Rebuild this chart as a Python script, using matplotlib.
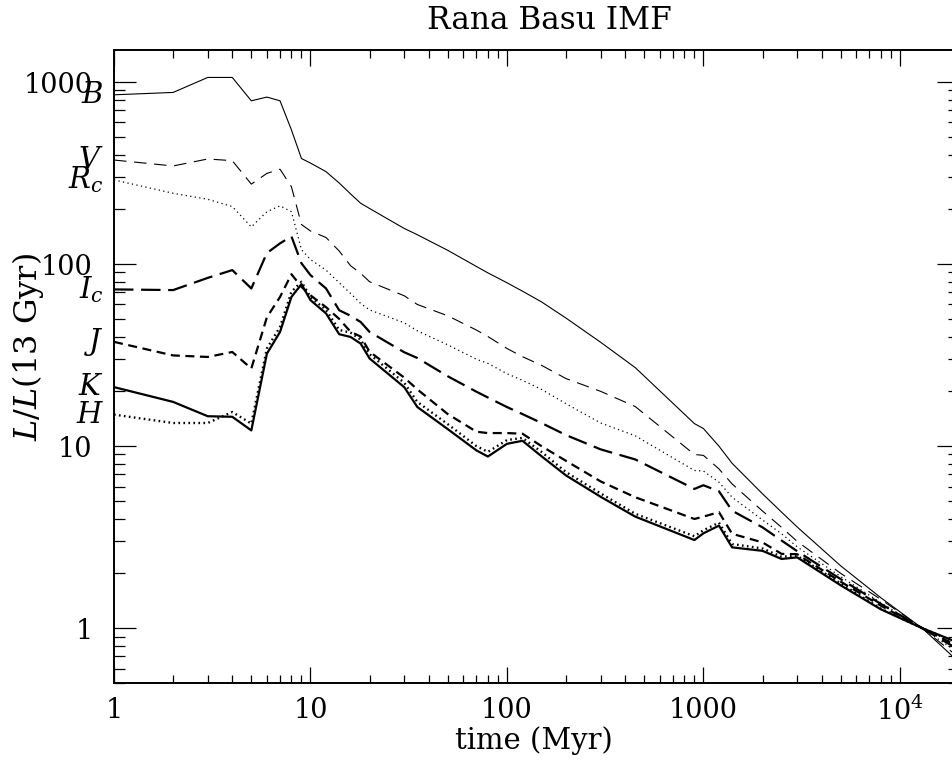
import matplotlib
matplotlib.use('Agg')
import matplotlib.pyplot as plt
from matplotlib.ticker import FixedLocator, FixedFormatter, LogLocator, NullFormatter

plt.rcParams['font.family'] = 'DejaVu Serif'
plt.rcParams['mathtext.fontset'] = 'dejavuserif'
plt.rcParams['lines.scale_dashes'] = False

# time grid (Myr)
t = [1, 2, 3, 4, 5, 6, 7, 8, 9, 10, 12, 14, 16, 18, 20, 30, 35, 50, 70, 80,
     100, 120, 150, 200, 300, 450, 900, 1000, 1200, 1400, 2000, 2500, 3000,
     5000, 8000, 13000, 20000]

# L / L(13 Gyr) per band
B = [851, 877, 1060, 1060, 789, 827, 789, 546, 380, 359, 322, 279, 243, 216, 202,
     157, 145, 119, 97, 89.5, 79, 71, 62, 50.5, 37.2, 27, 13.3, 12.5, 10.0, 8.05,
     5.47, 4.34, 3.6, 2.2, 1.47, 1.0, 0.65]
V = [373, 346, 378, 370, 275, 315, 332, 266, 165, 152, 140, 118, 98, 89, 80,
     67, 60, 52, 43.4, 40, 34.4, 31, 27.8, 23.5, 20, 16.5, 9.0, 8.9, 7.5, 6.2,
     4.4, 3.58, 3.0, 2.0, 1.44, 1.0, 0.69]
Rc = [290, 245, 227, 207, 160, 194, 209, 194, 120, 106, 92.7, 79, 69, 60.8, 56,
      47.6, 43, 36, 30, 28.5, 25, 23, 20.5, 17.1, 13.4, 11.4, 7.35, 7.3, 6.34, 5.24,
      3.93, 3.3, 2.8, 1.92, 1.38, 1.0, 0.73]
Ic = [72.6, 72, 84, 92.7, 73.5, 115, 130, 142, 101, 87, 73.5, 55.8, 52, 48.1, 42.4,
      32.8, 30.5, 24.2, 19.9, 18.5, 16.4, 15.0, 13.4, 11.5, 9.6, 8.45, 5.82, 6.1, 5.65,
      4.42, 3.58, 3.03, 2.65, 1.86, 1.36, 1.0, 0.76]
J = [37.4, 31.5, 30.9, 32.9, 26.7, 51, 66, 88, 75, 67.4, 58, 50, 42.5, 40, 33,
     23.8, 20.5, 15, 12, 11.8, 11.8, 11.7, 10, 8.3, 6.4, 5.24, 3.98, 4.1, 4.34, 3.3,
     2.96, 2.56, 2.55, 1.8, 1.33, 1.0, 0.79]
K = [21.1, 17.5, 14.6, 14.5, 12.2, 32.2, 42.4, 66, 77.6, 63.4, 53.6, 41.2, 39.8, 36.6,
     30.3, 21.1, 16.4, 12.4, 9.47, 8.77, 10.3, 10.7, 8.8, 6.9, 5.27, 4.1, 3.05, 3.32,
     3.66, 2.78, 2.66, 2.4, 2.45, 1.72, 1.27, 1.0, 0.83]
H = [14.9, 13.4, 13.4, 15.4, 13.3, 34.4, 45.2, 70.5, 80, 66, 56, 43.5, 42, 38.5, 32,
     22.3, 17.5, 13.2, 10, 9.3, 10.8, 11.1, 9.3, 7.2, 5.5, 4.25, 3.2, 3.45, 3.8, 2.9,
     2.74, 2.47, 2.5, 1.76, 1.28, 1.0, 0.82]

band_names = ['$B$', '$V$', '$R_c$', '$I_c$', '$J$', '$K$', '$H$']
bands = [B, V, Rc, Ic, J, K, H]
# (linewidth, dash pattern) for each band
styles = [(0.8, None), (0.8, (9, 5.5)), (0.9, (0.9, 2.4)), (1.6, (14, 5.5)),
          (1.6, (6.5, 4)), (1.6, None), (1.7, (1.2, 2.4))]

fig = plt.figure(figsize=(9.52, 7.64), dpi=100)
ax = fig.add_axes([114/952, 81/764, 845/952, 633/764])

for vals, (lw, dash) in zip(bands, styles):
    line, = ax.plot(t, vals, color='black', lw=lw)
    if dash is not None:
        line.set_dashes(dash)

ax.set_xscale('log')
ax.set_yscale('log')
ax.set_xlim(1, 2e4)
ax.set_ylim(0.5, 1500)

ax.xaxis.set_major_locator(FixedLocator([1, 10, 100, 1000, 1e4]))
ax.xaxis.set_major_formatter(FixedFormatter(['1', '10', '100', '1000', '$10^4$']))
ax.xaxis.set_minor_locator(LogLocator(base=10, subs=range(2, 10), numticks=20))
ax.xaxis.set_minor_formatter(NullFormatter())
ax.yaxis.set_major_locator(FixedLocator([1, 10, 100, 1000]))
ax.yaxis.set_major_formatter(FixedFormatter(['1', '10', '100', '1000']))
ax.yaxis.set_minor_locator(LogLocator(base=10, subs=range(2, 10), numticks=20))
ax.yaxis.set_minor_formatter(NullFormatter())

ax.tick_params(which='both', direction='in', top=True, right=True, width=0.9, labelsize=19.5)
ax.tick_params(axis='x', which='major', length=11.5, pad=10)
ax.tick_params(axis='x', which='minor', length=5.8)
ax.tick_params(axis='y', which='major', length=15.8, pad=15.5)
ax.tick_params(axis='y', which='minor', length=7.9)
for s in ax.spines.values():
    s.set_linewidth(1.4)

# band labels just left of the axis, at the first value
for name, vals in zip(band_names, bands):
    ax.text(-0.012, vals[0], name, transform=ax.get_yaxis_transform(),
            ha='right', va='center', fontsize=21)

ax.set_xlabel('time (Myr)', fontsize=21)
ax.xaxis.set_label_coords(0.497, -0.069)
ax.set_ylabel('$L/L$(13 Gyr)', fontsize=23)
ax.yaxis.set_label_coords(-0.081, 0.53)
fig.text(549/952, 1 - 29.3/764, 'Rana Basu IMF', ha='center', va='baseline', fontsize=22.5)

fig.savefig('out.png', dpi=100)
